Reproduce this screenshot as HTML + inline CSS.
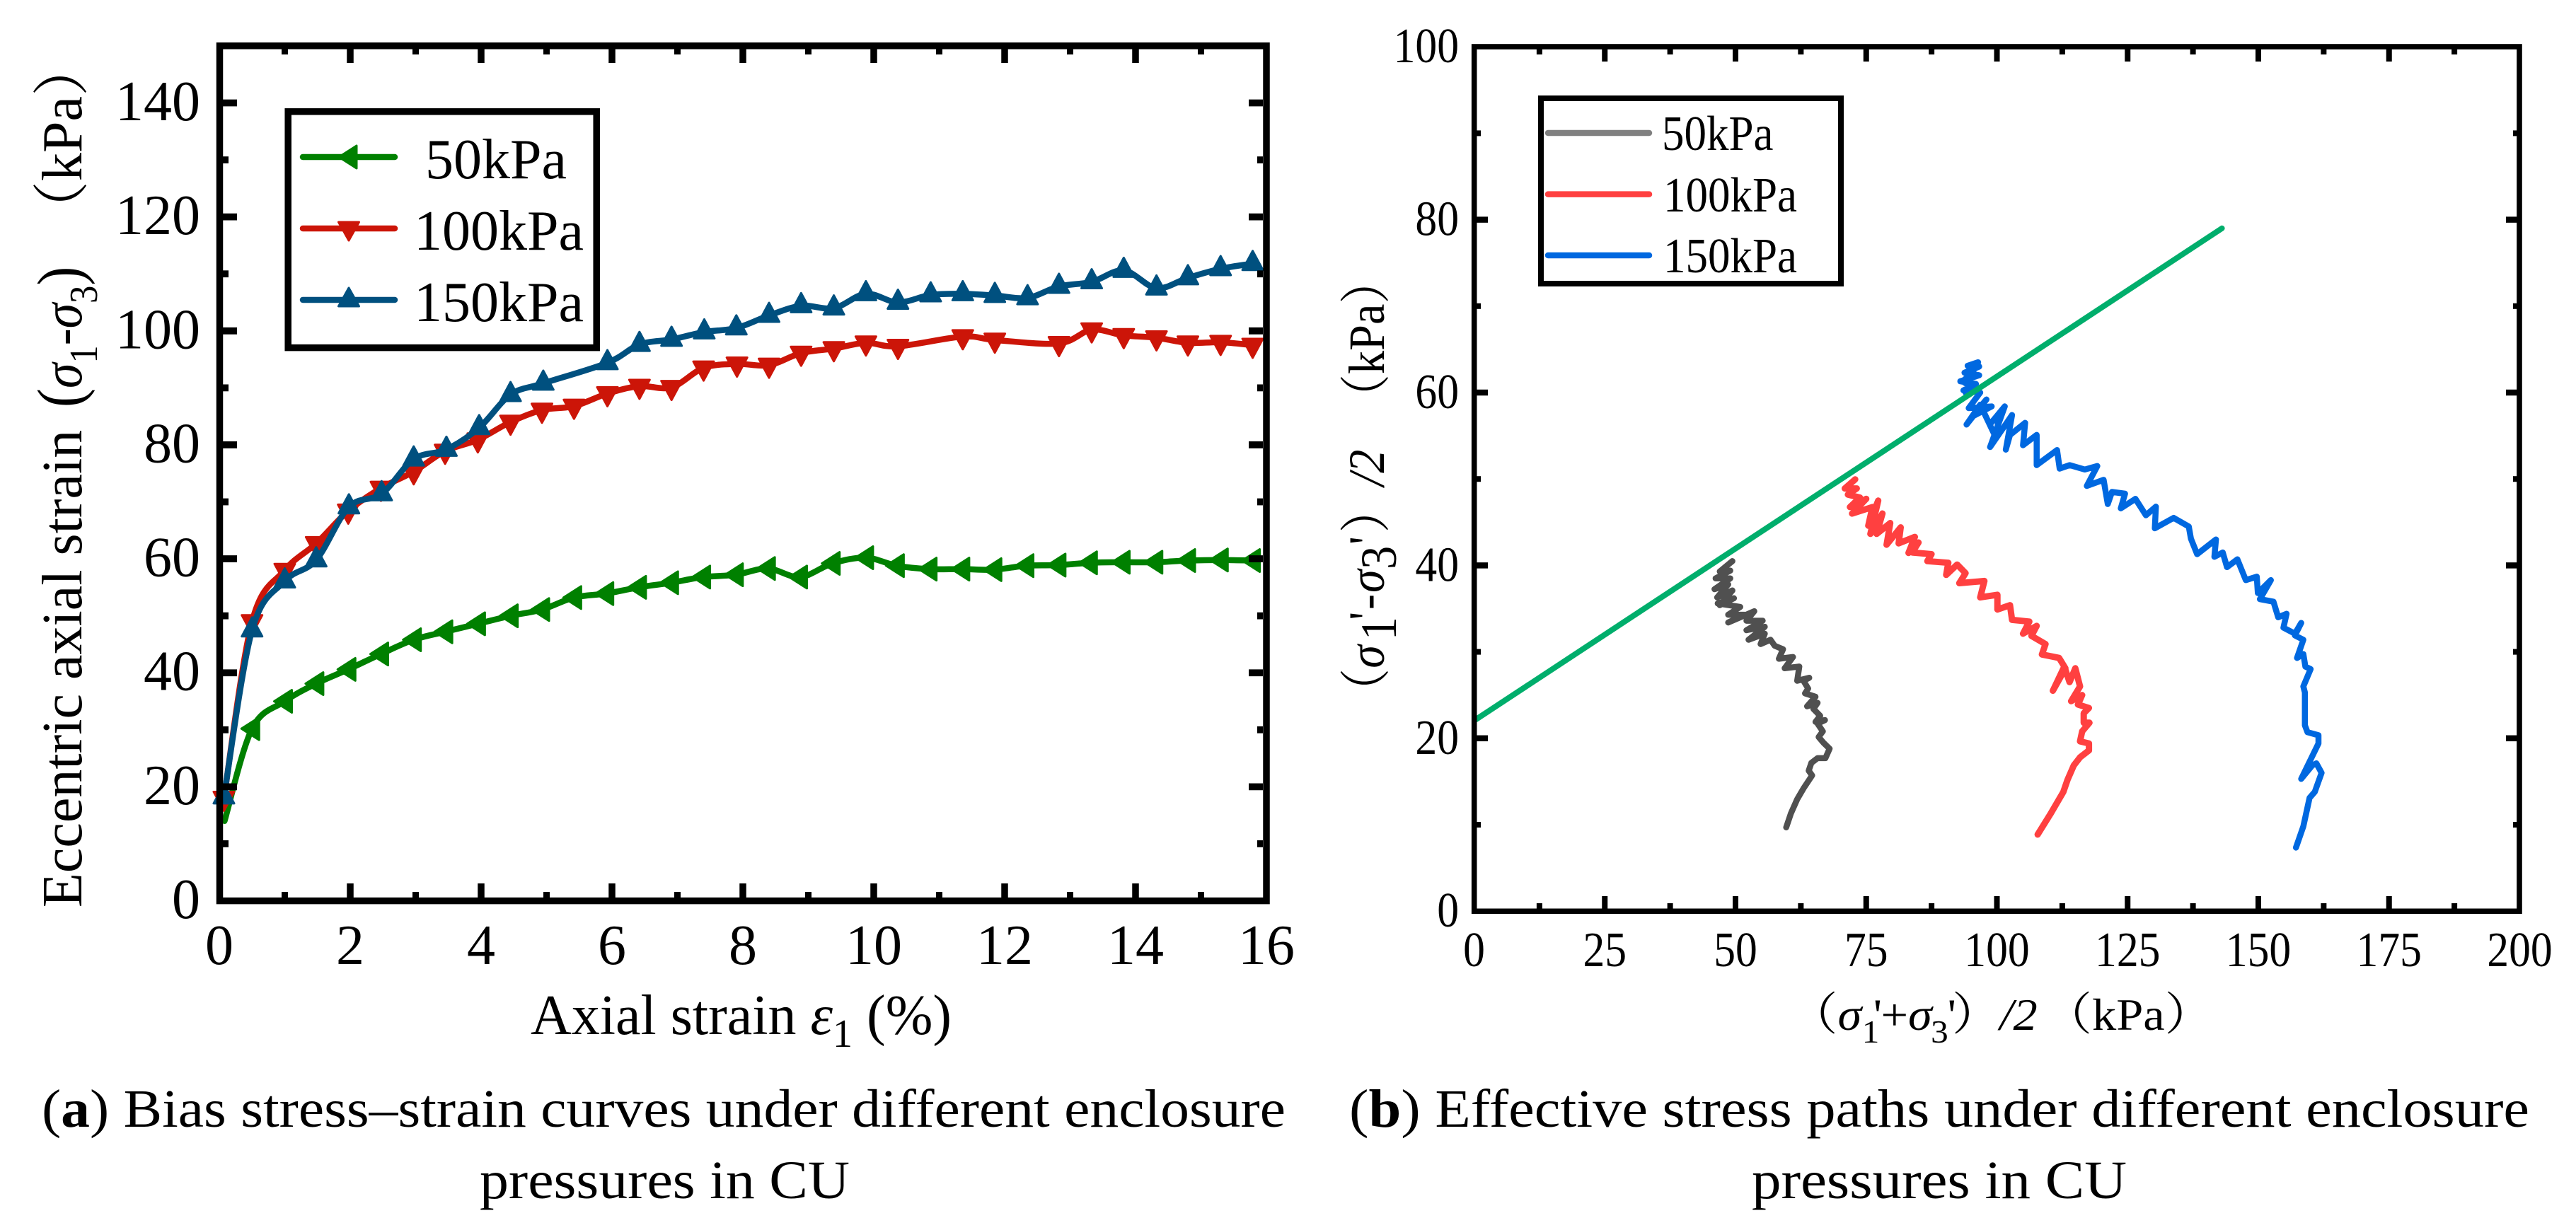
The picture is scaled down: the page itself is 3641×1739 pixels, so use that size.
<!DOCTYPE html>
<html lang="en">
<head>
<meta charset="utf-8">
<title>CU triaxial test curves</title>
<style>
html,body{margin:0;padding:0;background:#fff;width:3641px;height:1739px;overflow:hidden}
svg{display:block}
text{font-family:"Liberation Serif","Noto Serif CJK SC",serif;fill:#000}
</style>
</head>
<body>
<svg id="figure" xmlns="http://www.w3.org/2000/svg" width="3641" height="1739" viewBox="0 0 3641 1739">
  <rect x="0" y="0" width="3641" height="1739" fill="#fff"/>

  <g id="chartA">
    <g id="seriesA"></g>
    <rect x="310.5" y="64.8" width="1479.5" height="1208.8" fill="none" stroke="#000" stroke-width="9.5"/>
    <g id="axesA"></g>
    <text transform="translate(115,1283) rotate(-90)" font-size="80">Eccentric axial strain</text>
    <text transform="translate(115,576) rotate(-90) scale(.9,1)" font-size="80"><tspan font-size="90">(</tspan><tspan font-style="italic">σ</tspan><tspan font-size="56" dy="22">1</tspan><tspan dy="-22">-</tspan><tspan font-style="italic">σ</tspan><tspan font-size="56" dy="22">3</tspan><tspan dy="-22" font-size="90">)</tspan></text>
    <text transform="translate(115,336) rotate(-90)" font-size="80">（kPa）</text>
    <text x="750" y="1462" font-size="80" textLength="595" lengthAdjust="spacingAndGlyphs">Axial strain <tspan font-style="italic">ε</tspan><tspan font-size="56" dy="18">1</tspan><tspan dy="-18"> (%)</tspan></text>
    <g>
      <rect x="407.2" y="157.8" width="436" height="333.8" fill="#fff" stroke="#000" stroke-width="9.5"/>
      <line x1="428" y1="222" x2="558" y2="222" stroke="#008000" stroke-width="8.5" stroke-linecap="round"/>
      <polygon points="479,222 504,206 504,238" fill="#008000" stroke="#008000" stroke-width="3" stroke-linejoin="round"/>
      <text x="601" y="252" font-size="80">50kPa</text>
      <line x1="428" y1="323" x2="558" y2="323" stroke="#cc1508" stroke-width="8.5" stroke-linecap="round"/>
      <polygon points="478.5,314 507.5,314 493,340" fill="#cc1508" stroke="#cc1508" stroke-width="3" stroke-linejoin="round"/>
      <text x="585" y="353" font-size="80">100kPa</text>
      <line x1="428" y1="424" x2="558" y2="424" stroke="#00507f" stroke-width="8.5" stroke-linecap="round"/>
      <polygon points="478.5,433 507.5,433 493,407" fill="#00507f" stroke="#00507f" stroke-width="3" stroke-linejoin="round"/>
      <text x="585" y="454" font-size="80">150kPa</text>
    </g>
  </g>

  <g id="chartB">
    <g id="seriesB"></g>
    <rect x="2083.7" y="66" width="1477.3" height="1222.3" fill="none" stroke="#000" stroke-width="7.6"/>
    <g id="axesB"></g>
    <text transform="translate(1956,1011) rotate(-90) scale(.92,1)" font-size="72"><tspan x="0">（</tspan><tspan x="72" font-style="italic">σ</tspan><tspan x="115" dy="17">1</tspan><tspan x="146" dy="-17">'</tspan><tspan x="162">-</tspan><tspan x="188" font-style="italic">σ</tspan><tspan x="224" dy="17">3</tspan><tspan x="262" dy="-17">'</tspan><tspan x="280">）</tspan><tspan x="352" font-style="italic">/2</tspan><tspan x="452">（kPa）</tspan></text>
    <text transform="translate(2529,1456) scale(1.07,1)" font-size="64"><tspan x="0">（</tspan><tspan x="64" font-style="italic">σ</tspan><tspan x="96" dy="18" font-size="46">1</tspan><tspan x="111" dy="-18">'</tspan><tspan x="121">+</tspan><tspan x="157" font-style="italic">σ</tspan><tspan x="187" dy="18" font-size="46">3</tspan><tspan x="209" dy="-18">'</tspan><tspan x="215">）</tspan><tspan x="278" font-style="italic">/2</tspan><tspan x="336">（kPa）</tspan></text>
    <g>
      <rect x="2178" y="139" width="424" height="262" fill="#fff" stroke="#000" stroke-width="8"/>
      <line x1="2188" y1="188" x2="2331" y2="188" stroke="#808080" stroke-width="8.5" stroke-linecap="round"/>
      <text transform="translate(2349,212) scale(.9,1)" font-size="70">50kPa</text>
      <line x1="2188" y1="274.6" x2="2331" y2="274.6" stroke="#ff4040" stroke-width="8.5" stroke-linecap="round"/>
      <text transform="translate(2351,299) scale(.9,1)" font-size="70">100kPa</text>
      <line x1="2188" y1="361" x2="2331" y2="361" stroke="#0068e0" stroke-width="8.5" stroke-linecap="round"/>
      <text transform="translate(2351,385) scale(.9,1)" font-size="70">150kPa</text>
    </g>
  </g>

  <text x="59" y="1593" font-size="76" textLength="1758" lengthAdjust="spacingAndGlyphs">(<tspan font-weight="bold">a</tspan>) Bias stress–strain curves under different enclosure</text>
  <text x="678" y="1694" font-size="76" textLength="523" lengthAdjust="spacingAndGlyphs">pressures in CU</text>
  <text x="1907" y="1593" font-size="76" textLength="1668" lengthAdjust="spacingAndGlyphs">(<tspan font-weight="bold">b</tspan>) Effective stress paths under different enclosure</text>
  <text x="2476" y="1694" font-size="76" textLength="530" lengthAdjust="spacingAndGlyphs">pressures in CU</text>
</svg>

<script>
// ---- chart (a) data ----
const strain50 = [0.08,0.5,1,1.48,1.97,2.47,2.97,3.45,3.95,4.45,4.93,5.42,5.91,6.41,6.9,7.39,7.89,8.38,8.87,9.37,9.88,10.35,10.85,11.35,11.84,12.33,12.82,13.3,13.8,14.3,14.8,15.3,15.79];
const stress50 = [14,30.2,35,38.1,40.6,43.3,45.8,47.2,48.6,50,51.1,53.2,53.9,55,55.8,56.8,57.2,58.3,56.8,59.2,60.2,58.8,58.2,58.2,58.1,58.8,58.9,59.3,59.4,59.4,59.7,59.8,59.7];
const strain100 = [0.07,0.5,1,1.48,1.97,2.47,2.97,3.45,3.95,4.45,4.93,5.42,5.93,6.42,6.91,7.4,7.91,8.4,8.89,9.39,9.88,10.37,11.36,11.85,12.83,13.33,13.82,14.32,14.8,15.3,15.79];
const stress100 = [18,49,58,62.7,68.4,72.4,75.3,78.9,80.9,84,86.1,86.8,89,90.3,90.1,93.5,94.2,94,96.1,96.9,97.9,97.3,99,98.4,97.8,100.2,99.2,98.8,97.9,98,97.5];
const strain150 = [0.07,0.5,1,1.48,1.98,2.48,2.97,3.47,3.97,4.45,4.95,5.93,6.42,6.91,7.41,7.9,8.4,8.89,9.39,9.88,10.37,10.87,11.36,11.85,12.35,12.83,13.33,13.82,14.32,14.8,15.3,15.79];
const stress150 = [18.2,47.5,56.1,59.8,69.1,71.4,77.5,79.2,83,88.8,90.8,94.4,97.6,98.5,99.8,100.5,102.7,104.4,104,106.5,105,106.3,106.5,106.2,105.8,107.8,108.6,110.6,107.5,109.3,110.9,111.8];
const xTicksA = [0,2,4,6,8,10,12,14,16];
const xMinorA = [1,3,5,7,9,11,13,15];
const yTicksA = [0,20,40,60,80,100,120,140];
const yMinorA = [10,30,50,70,90,110,130];

// ---- chart (b) data ----
const p50 = [59.7,60.6,61.8,63,64.65,64,64.5,65.7,67.2,68,66.8,65.9,66.7,65.7,67.1,65.3,66.2,64.9,65.7,63.7,65.3,63.3,63.9,63,64.1,61.8,62.2,59.4,61,58.3,59.1,57.5,56.7,54.8,55.6,52.5,55.6,52.1,55.2,52.1,53.6,48.6,51.7,48.6,50.9,46.6,49.7,47,49.4,46.5,48.6,46,49,46.2,49,47,49.4];
const q50 = [9.7,11.3,12.95,14.2,15.7,16.25,17.15,17.7,17.7,18.8,19.5,20.15,20.8,21.7,22.1,21.9,22.6,23.4,24.1,23.7,24.8,25.2,25.75,26.65,27,26.65,28.3,28.1,29.4,29.2,30.3,30.7,31.4,30.9,32.1,31.4,32.9,32.5,33.6,33.6,34.7,33.4,34.3,34.3,35.2,35.6,36.2,35.4,37.1,36.3,37.8,37.25,38.5,38.5,39.4,39.3,40.5];
const p100 = [107.8,110.2,112.7,113.5,114.7,115.9,117.6,117.6,115.9,116.3,117.7,116.6,116.6,117.6,115.5,116.3,114.2,115.9,115,113.9,112.9,110.7,113.1,111.9,108.6,109.3,106.6,107.6,105,106.2,102.9,102.5,100.1,100.1,96.8,97.6,92.8,94,92.4,90.3,90.7,86.7,87.5,83.8,85,83.1,84.3,81.2,81.6,78.9,79.6,77,78.1,75.8,77.3,75.4,76.2,72.3,75,71.9,73.8,71.5,73.2,70.9,72.9];
const q100 = [8.86,11.2,13.8,15.2,16.85,17.8,18.6,19.4,19.65,20.8,21.8,21.8,22.9,23.5,23.9,25,24.3,26,28.1,26.5,28.3,25.5,28.1,29.3,29.7,30.9,31.85,33,32.1,33.5,33.7,35.4,34.9,36.6,36.3,38.2,37.95,39.1,40.1,38.9,40.3,40.5,41.3,41.5,42.65,41.45,43.3,42.55,44.4,42.4,44.9,43.65,46,43.65,47.5,44.6,46.75,46,47.7,46.75,47.85,48.2,48.9,48.9,49.96];
const p150 = [157.2,158.6,159.8,160.8,162.1,161.1,160.3,158.2,161.5,161.5,159.4,158.9,158.9,158.6,160,159,158.6,157.4,158.6,157,158.2,157,154.8,155.4,153.8,152.9,150.3,152.4,149.9,149.7,147.6,146,144,143.2,141.6,141.9,138.3,137.1,136.7,133.8,130.2,130.4,128.5,126.5,123.7,124.5,122,121.2,120.4,117.2,119.2,116.8,113.9,112,111.5,107.6,107.6,105,105.4,102.5,101.7,102.9,98.7,101.5,98.9,100.5,99.8,96.8,94.2,98,95.2,99,94.6,96.8,93.6,96,93,96.6,93.8,96.6,94.4,96.4,95.2,93.4,95.6,94];
const q150 = [7.36,9.8,13.1,13.8,16,17.1,16.85,15.3,19.4,20.35,20.7,21.5,25.3,26,28,28.3,29.75,29.3,31.4,31.9,33.35,32.1,32.8,34.4,34,35.8,36.1,38.3,36.8,38.7,38.3,40.7,39.8,41.5,41,43,41.3,43.1,44.5,45.5,44.3,46.8,45.8,47.7,46.6,48.3,48.5,47.1,49.9,49.2,51.5,51.1,51.6,51.2,53.35,51.6,55.1,53.9,56.5,55.1,53.4,57.4,53.7,58.4,56.5,57.6,54.8,58.6,56.3,59.2,57.2,58.4,58.2,60,60.25,61,61.3,62,62.3,63,63.1,63.5,62.2,61.3,60.5,60];
const failureP = [0.3,143.05];
const failureQ = [22.15,79];
const xTicksB = [0,25,50,75,100,125,150,175,200];
const xMinorB = [12.5,37.5,62.5,87.5,112.5,137.5,162.5,187.5];
const yTicksB = [0,20,40,60,80,100];
const yMinorB = [10,30,50,70,90];

const NS = 'http://www.w3.org/2000/svg';

// axis functions
function xA(v){ return 310 + 92.5 * v; }
function yA(v){ return 1273.5 - 8.057 * v; }
function xB(v){ return 2083.5 + 7.39 * v; }
function yB(v){ return 1288.2 - 12.22 * v; }

function smoothPath(pts){
  let d = 'M' + pts[0][0].toFixed(1) + ' ' + pts[0][1].toFixed(1);
  for (let i = 0; i < pts.length - 1; i++){
    const p0 = pts[Math.max(0, i - 1)], p1 = pts[i], p2 = pts[i + 1], p3 = pts[Math.min(pts.length - 1, i + 2)];
    const c1x = p1[0] + (p2[0] - p0[0]) / 6, c1y = p1[1] + (p2[1] - p0[1]) / 6;
    const c2x = p2[0] - (p3[0] - p1[0]) / 6, c2y = p2[1] - (p3[1] - p1[1]) / 6;
    d += 'C' + c1x.toFixed(1) + ' ' + c1y.toFixed(1) + ' ' + c2x.toFixed(1) + ' ' + c2y.toFixed(1) + ' ' + p2[0].toFixed(1) + ' ' + p2[1].toFixed(1);
  }
  return d;
}
function straightPath(pts){
  return 'M' + pts.map(p => p[0].toFixed(1) + ' ' + p[1].toFixed(1)).join('L');
}
function drawLine(parent, d, color, width, name){
  const el = document.createElementNS(NS, 'path');
  el.setAttribute('d', d);
  el.setAttribute('fill', 'none');
  el.setAttribute('stroke', color);
  el.setAttribute('stroke-width', width);
  el.setAttribute('stroke-linejoin', 'round');
  el.setAttribute('stroke-linecap', 'round');
  
  
  parent.appendChild(el);
}
function trianglePoints(kind, x, y){
  if (kind === 'left') return [[x - 15, y], [x + 10, y - 16], [x + 10, y + 16]];
  if (kind === 'down') return [[x - 14.5, y - 9], [x + 14.5, y - 9], [x, y + 18]];
  return [[x - 14.5, y + 9], [x + 14.5, y + 9], [x, y - 18]];
}
function drawMarkers(parent, xs, ys, kind, color, first, name){
  for (let i = first; i < xs.length; i++){
    const el = document.createElementNS(NS, 'polygon');
    el.setAttribute('points', trianglePoints(kind, xA(xs[i]), yA(ys[i])).map(p => p.join(',')).join(' '));
    el.setAttribute('fill', color);
    el.setAttribute('stroke', color);
    el.setAttribute('stroke-width', 3);
    el.setAttribute('stroke-linejoin', 'round');
    
    
    parent.appendChild(el);
  }
}
function zip(xs, ys, fx, fy){
  return xs.map((v, i) => [fx(v), fy(ys[i])]);
}
function tick(parent, x1, y1, x2, y2, w, name){
  const el = document.createElementNS(NS, 'line');
  el.setAttribute('x1', x1);
  el.setAttribute('y1', y1);
  el.setAttribute('x2', x2);
  el.setAttribute('y2', y2);
  el.setAttribute('stroke', '#000');
  el.setAttribute('stroke-width', w);
  
  
  parent.appendChild(el);
}
function label(parent, str, x, y, size, anchor, sx, name){
  const el = document.createElementNS(NS, 'text');
  el.setAttribute('transform', 'translate(' + x + ',' + y + ') scale(' + sx + ',1)');
  el.setAttribute('font-size', size);
  el.setAttribute('text-anchor', anchor);
  
  
  el.textContent = str;
  parent.appendChild(el);
}

// chart (a)
const sA = document.getElementById('seriesA');
drawLine(sA, smoothPath(zip(strain50, stress50, xA, yA)), '#008000', 8.5, 'line-50kpa');
drawMarkers(sA, strain50, stress50, 'left', '#008000', 1, 'marker-50kpa');
drawLine(sA, smoothPath(zip(strain100, stress100, xA, yA)), '#cc1508', 8.5, 'line-100kpa');
drawMarkers(sA, strain100, stress100, 'down', '#cc1508', 0, 'marker-100kpa');
drawLine(sA, smoothPath(zip(strain150, stress150, xA, yA)), '#00507f', 8.5, 'line-150kpa');
drawMarkers(sA, strain150, stress150, 'up', '#00507f', 0, 'marker-150kpa');

const aA = document.getElementById('axesA');
xTicksA.forEach(v => {
  const x = xA(v);
  if (v > 0 && v < 16){
    tick(aA, x, 1269, x, 1249, 9.5, 'x-major-tick');
    tick(aA, x, 69, x, 89, 9.5, 'x-major-tick-top');
  }
  label(aA, String(v), x, 1363, 80, 'middle', 1, 'x-tick-label');
});
xMinorA.forEach(v => {
  const x = xA(v);
  tick(aA, x, 1269, x, 1261, 9, 'x-minor-tick');
  tick(aA, x, 69, x, 77, 9, 'x-minor-tick-top');
});
yTicksA.forEach(v => {
  const y = yA(v);
  if (v > 0){
    tick(aA, 315, y, 335, y, 9.8, 'y-major-tick');
    tick(aA, 1785, y, 1765, y, 9.8, 'y-major-tick-right');
  }
  label(aA, String(v), 283, y + 24.5, 80, 'end', 1, 'y-tick-label');
});
yMinorA.forEach(v => {
  const y = yA(v);
  tick(aA, 315, y, 323, y, 9.8, 'y-minor-tick');
  tick(aA, 1785, y, 1777, y, 9.8, 'y-minor-tick-right');
});

// chart (b)
const sB = document.getElementById('seriesB');
drawLine(sB, straightPath(zip(p50, q50, xB, yB)), '#505050', 8.5, 'path-50kpa');
drawLine(sB, straightPath(zip(p100, q100, xB, yB)), '#ff4040', 9, 'path-100kpa');
drawLine(sB, straightPath(zip(p150, q150, xB, yB)), '#0068e0', 8.5, 'path-150kpa');
drawLine(sB, straightPath(zip(failureP, failureQ, xB, yB)), '#00ae6c', 8, 'failure-envelope-line');

const aB = document.getElementById('axesB');
xTicksB.forEach(v => {
  const x = xB(v);
  if (v > 0 && v < 200){
    tick(aB, x, 1285, x, 1267, 8, 'x-major-tick');
    tick(aB, x, 69, x, 87, 8, 'x-major-tick-top');
  }
  label(aB, String(v), x, 1366, 70, 'middle', 0.88, 'x-tick-label');
});
xMinorB.forEach(v => {
  const x = xB(v);
  tick(aB, x, 1285, x, 1277, 8, 'x-minor-tick');
  tick(aB, x, 69, x, 77, 8, 'x-minor-tick-top');
});
yTicksB.forEach(v => {
  const y = yB(v);
  if (v > 0 && v < 100){
    tick(aB, 2087, y, 2103, y, 8.5, 'y-major-tick');
    tick(aB, 3558, y, 3542, y, 8.5, 'y-major-tick-right');
  }
  label(aB, String(v), 2062, y + 22, 70, 'end', 0.88, 'y-tick-label');
});
yMinorB.forEach(v => {
  const y = yB(v);
  tick(aB, 2087, y, 2093, y, 8, 'y-minor-tick');
  tick(aB, 3558, y, 3552, y, 8, 'y-minor-tick-right');
});
</script>
</body>
</html>
